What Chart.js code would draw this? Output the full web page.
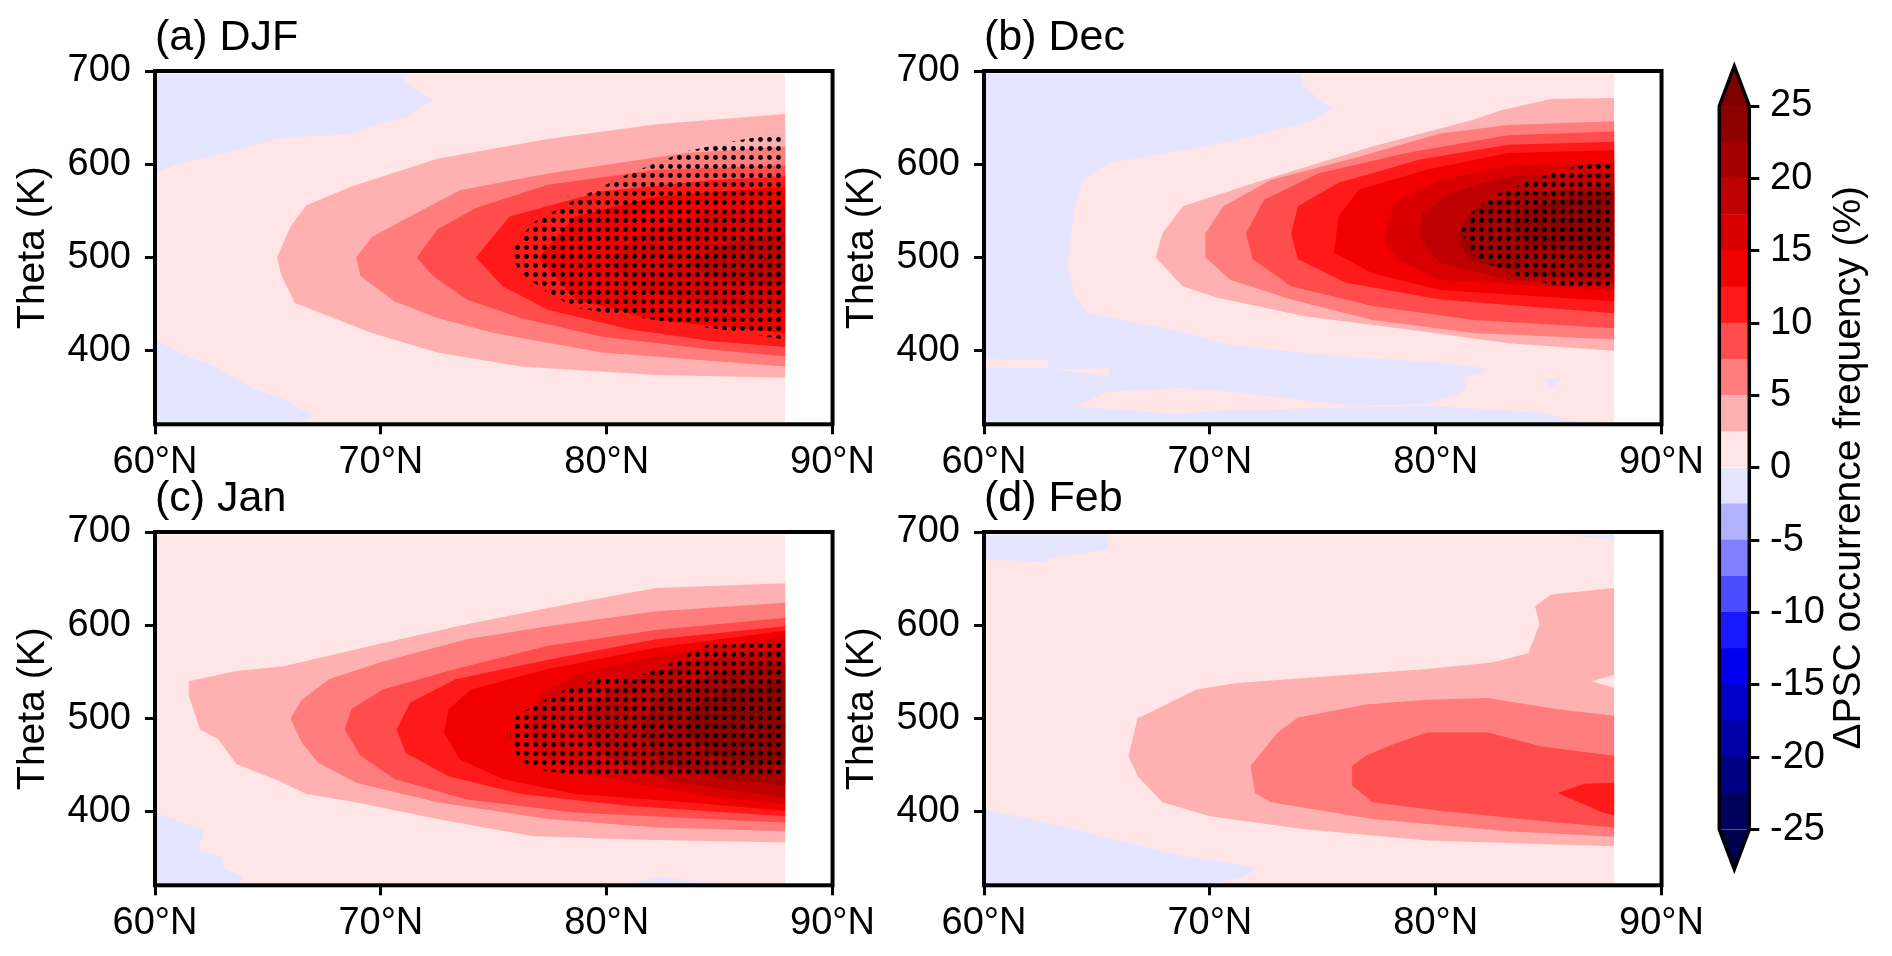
<!DOCTYPE html>
<html>
<head>
<meta charset="utf-8">
<script src="https://cdn.jsdelivr.net/npm/chart.js@4.4.1/dist/chart.umd.min.js"></script>
<style>
  html, body { margin: 0; padding: 0; background: #fff; width: 1892px; height: 956px; overflow: hidden; }
  canvas { position: absolute; }
</style>
</head>
<body>
<canvas id="panel-a" width="880" height="480" style="left:0px;top:0px"></canvas>
<canvas id="panel-b" width="880" height="480" style="left:829px;top:0px"></canvas>
<canvas id="panel-c" width="880" height="480" style="left:0px;top:461px"></canvas>
<canvas id="panel-d" width="880" height="480" style="left:829px;top:461px"></canvas>
<canvas id="cbar" width="192" height="956" style="left:1700px;top:0px"></canvas>
<script>
// axes
const latTicks = [60, 70, 80, 90];
const thetaTicks = [400, 500, 600, 700];
const cbarTicks = [-25, -20, -15, -10, -5, 0, 5, 10, 15, 20, 25];
// lower bound of each 2.5 % colour band
const cbarBands = [-25, -22.5, -20, -17.5, -15, -12.5, -10, -7.5, -5, -2.5, 0, 2.5, 5, 7.5, 10, 12.5, 15, 17.5, 20, 22.5];

// (a) DJF : contour regions, band lower bound + outline (lat, theta)
const djfLevel = [0, -2.5, -2.5, 2.5, 5, 7.5, 10, 12.5, 15, 17.5];
const djfLat = [
  [60, 60, 87.9, 87.9],
  [60, 71.3, 71.0, 71.2, 72.3, 71.1, 68.4, 65.5, 62.8, 61.1, 60],
  [60, 61.1, 62.8, 64.3, 65.7, 67.0, 66.4, 60],
  [87.9, 82.2, 77.4, 72.5, 68.7, 66.7, 66.0, 65.4, 65.6, 66.2, 67.7, 69.6, 72.5, 76.2, 82.2, 87.9],
  [87.9, 83.5, 77.4, 73.5, 71.6, 69.6, 68.9, 69.1, 70.6, 72.5, 75.0, 79.8, 84.7, 87.9],
  [87.9, 82.2, 77.4, 74.2, 72.5, 71.6, 72.3, 73.8, 76.2, 79.8, 84.7, 87.9],
  [87.9, 84.7, 79.8, 75.7, 74.2, 75.4, 77.4, 81.0, 84.7, 87.9],
  [87.9, 82.2, 78.6, 77.0, 78.6, 82.2, 87.9],
  [87.9, 84.0, 81.5, 80.0, 81.5, 84.0, 87.9],
  [87.9, 85.5, 83.5, 84.5, 86.0, 87.9]
];
const djfTheta = [
  [322, 697, 697, 322],
  [697, 697, 690, 685, 669, 651, 632, 628, 610, 601, 590],
  [412, 398, 381, 360, 348, 330, 322, 322],
  [654, 643, 627, 606, 576, 556, 533, 500, 480, 451, 437, 419, 398, 383, 374, 371],
  [619, 612, 590, 572, 548, 522, 500, 480, 453, 435, 419, 398, 389, 383],
  [599, 594, 578, 553, 530, 500, 480, 455, 435, 415, 401, 394],
  [587, 583, 571, 544, 500, 469, 444, 423, 410, 404],
  [576, 565, 544, 500, 455, 433, 419],
  [555, 545, 525, 495, 465, 452, 442],
  [525, 516, 495, 480, 474, 472]
];
const djfDotsLat = [87.9, 85.9, 83.5, 81.0, 78.6, 76.7, 75.7, 76.2, 77.4, 78.6, 81.0, 84.7, 87.9];
const djfDotsTheta = [634, 626, 614, 590, 562, 537, 505, 483, 462, 446, 437, 424, 412];

// (b) Dec
const decLevel = [-2.5, 0, 0, 0, -2.5, 2.5, 5, 7.5, 10, 12.5, 15, 17.5, 20, 22.5];
const decLat = [
  [60, 60, 87.9, 87.9],
  [74.0, 87.9, 87.9, 86.5, 84.7, 79.6, 77.5, 76.3, 71.0, 68.5, 64.0, 65.5, 68.8, 71.2, 76.3, 78.5, 79.6, 80.8, 81.4, 81.2,
   82.4, 80.2, 75.7, 71.2, 68.2, 64.6, 64.1, 63.7, 64.0, 64.4, 65.5, 68.8, 71.2, 74.5, 75.4, 74.15],
  [60, 62.9, 62.8, 60],
  [63.1, 65.6, 65.5],
  [84.8, 85.6, 85.1],
  [87.9, 85.1, 82.9, 81.7, 77.2, 72.1, 68.8, 67.9, 67.6, 68.8, 70.3, 74.2, 78.7, 83.2, 87.9],
  [87.9, 83.2, 80.2, 76.6, 72.7, 70.6, 69.8, 69.8, 70.9, 73.6, 77.2, 81.7, 87.9],
  [87.9, 83.2, 78.7, 74.8, 72.4, 71.6, 71.9, 73.6, 77.2, 81.7, 87.9],
  [87.9, 83.2, 79.3, 75.7, 73.9, 73.6, 73.9, 76.0, 80.2, 87.9],
  [87.9, 83.2, 79.6, 76.6, 75.7, 75.5, 77.2, 80.2, 87.9],
  [87.9, 83.2, 80.2, 78.2, 77.7, 78.3, 80.2, 87.9],
  [87.9, 83.2, 80.6, 79.4, 79.3, 80.2, 83.2, 87.9],
  [87.9, 83.5, 81.6, 80.9, 81.5, 84.7, 87.9],
  [87.9, 86.0, 84.2, 83.3, 84.0, 86.0, 87.9]
];
const decTheta = [
  [322, 697, 697, 322],
  [697, 697, 322, 322, 333, 341, 339.5, 339, 336, 332, 340, 356, 360, 355, 341, 342, 343, 351, 360, 371,
   380, 387, 394, 405, 423, 440, 455, 490, 554, 583, 601, 615, 626, 646, 660, 683],
  [391, 390, 381, 382],
  [380, 381.5, 372.5],
  [369.6, 369.6, 360],
  [671, 670, 658, 648, 619, 581, 555, 526, 500, 469, 457, 437, 423, 408, 400],
  [646, 642, 633, 608, 583, 555, 526, 500, 476, 455, 433, 419, 412],
  [635, 631, 612, 590, 562, 526, 498, 469, 448, 433, 424],
  [624, 621, 605, 580, 555, 526, 498, 473, 455, 440],
  [615, 612, 594, 573, 544, 505, 483, 465, 453],
  [601, 598, 583, 560, 520, 497, 476, 465],
  [590, 587, 569, 547, 519, 494, 476, 471],
  [576, 569, 550, 522, 497, 479, 476],
  [572, 566, 552, 535, 515, 508, 506]
];
const decDotsLat = [87.9, 86.2, 84.7, 82.4, 81.4, 81.1, 81.8, 83.6, 85.1, 87.9];
const decDotsTheta = [604, 598, 587, 565, 544, 528, 498, 480, 471, 464];

// (c) Jan
const janLevel = [0, -2.5, -2.5, 2.5, 5, 7.5, 10, 12.5, 15, 17.5, 20, 22.5];
const janLat = [
  [60, 60, 87.9, 87.9],
  [60, 62.2, 61.9, 63.0, 63.0, 63.9, 63.7, 60],
  [81.0, 82.2, 84.7, 85.5],
  [87.9, 82.2, 78.6, 73.8, 70.1, 65.7, 63.6, 61.5, 61.5, 62.0, 62.8, 63.6, 65.5, 66.7, 68.9, 72.5, 76.7, 81.0, 87.9],
  [87.9, 82.2, 77.4, 73.8, 70.1, 67.7, 66.5, 66.0, 66.5, 67.2, 68.9, 72.5, 77.4, 82.2, 87.9],
  [87.9, 82.2, 77.4, 73.3, 70.1, 68.7, 68.4, 69.1, 70.6, 73.8, 78.6, 87.9],
  [87.9, 82.2, 77.4, 73.3, 71.3, 70.7, 71.1, 73.0, 76.2, 81.0, 87.9],
  [87.9, 82.2, 77.4, 74.0, 73.0, 72.8, 73.5, 75.4, 78.6, 83.5, 87.9],
  [87.9, 82.2, 78.6, 77.0, 76.5, 77.0, 79.0, 84.7, 87.9],
  [87.9, 83.5, 80.5, 79.2, 79.0, 80.0, 83.0, 87.9],
  [87.9, 85.0, 82.3, 81.5, 82.3, 85.0, 87.9],
  [87.9, 85.5, 83.8, 83.5, 84.5, 86.5, 87.9]
];
const janTheta = [
  [322, 697, 697, 322],
  [399, 380, 360, 351, 340, 330, 322, 322],
  [322, 330, 324, 322],
  [645, 640, 624, 601, 581, 556, 551, 540, 524, 488, 478, 451, 433, 419, 410, 392, 374, 370, 367],
  [624, 615, 599, 585, 561, 542, 520, 500, 474, 453, 431, 410, 392, 383, 379],
  [608, 595, 578, 553, 531, 510, 488, 460, 435, 413, 399, 388],
  [599, 585, 563, 542, 517, 488, 463, 438, 419, 406, 395],
  [594, 576, 553, 531, 510, 485, 456, 435, 419, 410, 401],
  [588, 567, 547, 525, 490, 462, 440, 416, 408],
  [574, 560, 535, 512, 488, 458, 432, 415],
  [560, 550, 525, 490, 455, 435, 428],
  [540, 532, 512, 488, 462, 452, 450]
];
const janDotsLat = [87.9, 84.4, 82.9, 81.4, 79.7, 78.2, 76.7, 76.0, 75.7, 76.1, 77.0, 79.4, 87.9];
const janDotsTheta = [580, 579, 560, 545, 542, 531, 513, 502, 483, 456, 445, 436, 436];

// (d) Feb
const febLevel = [0, -2.5, -2.5, -2.5, 2.5, 0, 5, 7.5, 10];
const febLat = [
  [60, 60, 87.9, 87.9],
  [60, 65.5, 65.5, 62.9, 62.8, 60],
  [60, 62.8, 65.8, 69.1, 72.1, 71.5, 70.0, 60],
  [85.5, 87.9, 87.9],
  [87.9, 85.1, 84.4, 84.6, 84.1, 82.5, 79.6, 71.2, 69.4, 67.9, 66.8, 66.4, 66.8, 67.9, 70.0, 74.2, 79.6, 87.9],
  [87.9, 86.9, 87.9],
  [87.9, 85.3, 82.3, 79.6, 76.9, 73.9, 73.0, 71.8, 72.0, 72.7, 77.2, 83.2, 87.9],
  [87.9, 84.7, 82.3, 79.6, 78.1, 76.9, 76.3, 76.3, 77.2, 80.2, 84.7, 87.9],
  [87.9, 86.6, 85.4, 87.4, 87.9]
];
const febTheta = [
  [322, 697, 697, 322],
  [697, 697, 681, 672, 668.6, 670],
  [402.5, 388, 370, 351, 340, 330, 322, 322],
  [697, 697, 692],
  [640, 633, 620, 601, 570, 560, 553, 538, 531, 513, 500, 460, 438, 410, 395, 381, 369, 363],
  [547, 540, 533],
  [503, 510, 522, 520, 515, 501, 485, 449, 420, 410, 392, 379, 373],
  [460, 470, 485, 485, 472, 460, 449, 428, 410, 401, 390, 383],
  [431, 430, 420, 399, 396]
];

const panelTitles = ['(a) DJF', '(b) Dec', '(c) Jan', '(d) Feb'];

const FONT = "'Liberation Sans', Arial, Helvetica, sans-serif";
Chart.defaults.font.family = FONT;
Chart.defaults.color = '#000';

// matplotlib "seismic" colormap, 256-entry lookup
const seismicStops = [[0, 0, 0.3], [0, 0, 1], [1, 1, 1], [1, 0, 0], [0.5, 0, 0]];
function seismic(t) {
  let i = Math.floor(t * 256);
  i = Math.min(255, Math.max(0, i));
  const x = i / 255 * 4;
  const k = Math.min(3, Math.floor(x));
  const f = x - k;
  const c = seismicStops[k].map((v, j) => Math.round(255 * (v + (seismicStops[k + 1][j] - v) * f)));
  return `rgb(${c[0]},${c[1]},${c[2]})`;
}
const bandColor = (lo) => seismic((lo + 1.25 + 25) / 50);

// black frame round the plot area
const framePlugin = {
  id: 'frame',
  afterDraw(chart) {
    const { ctx, chartArea: a } = chart;
    ctx.save();
    ctx.lineWidth = 4;
    ctx.strokeStyle = '#000';
    ctx.strokeRect(a.left, a.top, a.right - a.left, a.bottom - a.top);
    ctx.restore();
  }
};

function dotPattern(canvas) {
  const tile = document.createElement('canvas');
  tile.width = 9;
  tile.height = 9;
  const t = tile.getContext('2d');
  t.fillStyle = '#000';
  t.beginPath();
  t.arc(4.5, 4.5, 2.4, 0, Math.PI * 2);
  t.fill();
  return canvas.getContext('2d').createPattern(tile, 'repeat');
}

const tickGrid = { drawOnChartArea: false, drawTicks: true, tickLength: 10, tickWidth: 3, tickColor: '#000' };

function makePanel(id, title, levels, lats, thetas, dotsLat, dotsTheta) {
  const canvas = document.getElementById(id);
  const shape = (lat, theta, color) => ({
    data: lat.map((x, i) => ({ x, y: theta[i] })),
    backgroundColor: color,
    borderWidth: 0,
    pointRadius: 0,
    showLine: true,
    tension: 0,
    fill: 'shape'
  });
  const datasets = levels.map((lv, k) => shape(lats[k], thetas[k], bandColor(lv)));
  if (dotsLat) datasets.push(shape(dotsLat, dotsTheta, dotPattern(canvas)));
  // Chart.js paints the first dataset on top, so reverse the painting order
  datasets.reverse();

  new Chart(canvas, {
    type: 'scatter',
    data: { datasets },
    options: {
      responsive: false,
      animation: false,
      events: [],
      devicePixelRatio: 1,
      // right padding leaves room for the "90°N" label outside the plot area
      layout: { padding: { right: 46 } },
      plugins: {
        legend: { display: false },
        tooltip: { enabled: false },
        title: {
          display: true,
          text: title,
          align: 'start',
          fullSize: false,
          color: '#000',
          font: { size: 43, weight: 'normal' },
          padding: { top: 12.6, bottom: 6.8 }
        }
      },
      scales: {
        x: {
          type: 'linear',
          min: 60,
          max: 90,
          afterBuildTicks: (s) => { s.ticks = latTicks.map((value) => ({ value })); },
          afterFit: (s) => { s.height = 55.7; },
          grid: tickGrid,
          border: { display: false },
          ticks: { font: { size: 38 }, color: '#000', padding: 5, maxRotation: 0, callback: (v) => v + '°N' }
        },
        y: {
          type: 'linear',
          min: 321,
          max: 700,
          afterBuildTicks: (s) => { s.ticks = thetaTicks.map((value) => ({ value })); },
          afterFit: (s) => { s.width = 155; },
          grid: tickGrid,
          border: { display: false },
          ticks: { font: { size: 38 }, color: '#000', padding: 14 },
          title: { display: true, text: 'Theta (K)', color: '#000', font: { size: 39 }, padding: { top: 10, bottom: 0 } }
        }
      }
    },
    plugins: [framePlugin]
  });
}

makePanel('panel-a', panelTitles[0], djfLevel, djfLat, djfTheta, djfDotsLat, djfDotsTheta);
makePanel('panel-b', panelTitles[1], decLevel, decLat, decTheta, decDotsLat, decDotsTheta);
makePanel('panel-c', panelTitles[2], janLevel, janLat, janTheta, janDotsLat, janDotsTheta);
makePanel('panel-d', panelTitles[3], febLevel, febLat, febTheta, null, null);

// colour bar: one floating bar per 2.5 % band, triangles for the extended ends
const cbarPlugin = {
  id: 'cbarFrame',
  afterDatasetsDraw(chart) {
    const { ctx, chartArea: a, scales: { y } } = chart;
    const top = y.getPixelForValue(25);
    const bottom = y.getPixelForValue(-25);
    const mid = (a.left + a.right) / 2;
    const ext = 0.055 * (bottom - top);
    ctx.save();
    ctx.fillStyle = 'rgb(128,0,0)';
    ctx.beginPath();
    ctx.moveTo(a.left, top); ctx.lineTo(mid, top - ext); ctx.lineTo(a.right, top); ctx.closePath();
    ctx.fill();
    ctx.fillStyle = 'rgb(0,0,77)';
    ctx.beginPath();
    ctx.moveTo(a.left, bottom); ctx.lineTo(mid, bottom + ext); ctx.lineTo(a.right, bottom); ctx.closePath();
    ctx.fill();
    ctx.lineWidth = 3.5;
    ctx.strokeStyle = '#000';
    ctx.lineJoin = 'miter';
    ctx.beginPath();
    ctx.moveTo(a.left, top); ctx.lineTo(mid, top - ext); ctx.lineTo(a.right, top);
    ctx.lineTo(a.right, bottom); ctx.lineTo(mid, bottom + ext); ctx.lineTo(a.left, bottom);
    ctx.closePath();
    ctx.stroke();
    // label
    ctx.translate(149, (top + bottom) / 2);
    ctx.rotate(-Math.PI / 2);
    ctx.fillStyle = '#000';
    ctx.font = '39px ' + FONT;
    ctx.textAlign = 'center';
    ctx.textBaseline = 'middle';
    ctx.fillText('ΔPSC occurrence frequency (%)', 0, 0);
    ctx.restore();
  }
};

new Chart(document.getElementById('cbar'), {
  type: 'bar',
  data: {
    labels: [''],
    datasets: cbarBands.map((lo) => ({
      data: [[lo, lo + 2.5]],
      backgroundColor: bandColor(lo),
      borderWidth: 0,
      barPercentage: 1,
      categoryPercentage: 1,
      grouped: false
    }))
  },
  options: {
    responsive: false,
    animation: false,
    events: [],
    devicePixelRatio: 1,
    layout: { padding: { left: 19.3, top: 106, bottom: 126.5 } },
    plugins: { legend: { display: false }, tooltip: { enabled: false } },
    scales: {
      x: { display: false },
      y: {
        position: 'right',
        min: -25,
        max: 25,
        afterBuildTicks: (s) => { s.ticks = cbarTicks.map((value) => ({ value })); },
        afterFit: (s) => { s.width = 142.7; },
        grid: tickGrid,
        border: { display: false },
        ticks: { font: { size: 38 }, color: '#000', padding: 10.7, callback: (v) => String(v) }
      }
    }
  },
  plugins: [cbarPlugin]
});
</script>
</body>
</html>
